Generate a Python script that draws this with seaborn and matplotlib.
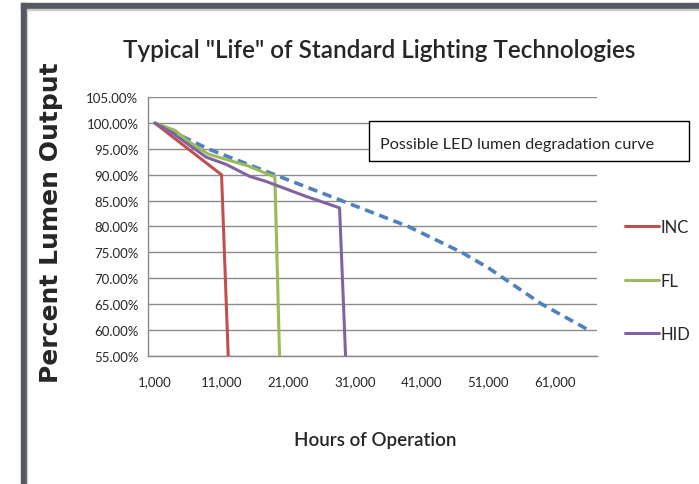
import matplotlib
matplotlib.use("Agg")
import matplotlib.pyplot as plt
import seaborn as sns
import pandas as pd
from matplotlib.patches import Rectangle
from matplotlib.ticker import FuncFormatter, FixedLocator

# hours vs percent lumen output
inc_hours = [1000, 11000, 12000]
inc_pct = [100, 90, 55]
fl_hours = [1000, 4000, 6000, 9000, 15000, 18000, 19000, 19700]
fl_pct = [100, 98.6, 96.5, 94.0, 91.7, 90.1, 89.6, 55]
hid_hours = [1000, 3500, 8700, 11700, 15200, 17700, 23700, 28700, 29600]
hid_pct = [100, 98.2, 93.4, 92.0, 89.7, 88.7, 85.8, 83.6, 55]
led_hours = [1000, 9000, 19000, 29000, 39000, 47000, 51000, 59000, 66000]
led_pct = [100, 95, 90, 85, 80, 75, 72, 65, 60]

x_ticks = [1000, 11000, 21000, 31000, 41000, 51000, 61000]
y_ticks = [55, 60, 65, 70, 75, 80, 85, 90, 95, 100, 105]

colors = {"INC": "#c0504d", "FL": "#9bbb59", "HID": "#8064a2"}
led_color = "#4f81bd"

df = pd.concat([
    pd.DataFrame({"hours": inc_hours, "pct": inc_pct, "tech": "INC"}),
    pd.DataFrame({"hours": fl_hours, "pct": fl_pct, "tech": "FL"}),
    pd.DataFrame({"hours": hid_hours, "pct": hid_pct, "tech": "HID"}),
])
led = pd.DataFrame({"hours": led_hours, "pct": led_pct})

sns.set_style("white")
plt.rcParams["font.family"] = ["Lato", "DejaVu Sans"]

fig = plt.figure(figsize=(6.99, 4.85), dpi=100)
ax = fig.add_axes([0.212, 0.2645, 0.642, 0.533])

sns.lineplot(data=led, x="hours", y="pct", ax=ax, color=led_color,
             linewidth=2.6, linestyle=(0, (2.6, 1.6)), legend=False, zorder=3)
sns.lineplot(data=df, x="hours", y="pct", hue="tech", palette=colors,
             hue_order=["INC", "FL", "HID"], ax=ax, linewidth=2.2,
             sort=False, estimator=None, zorder=4)

ax.set_xlim(0, 67300)
ax.set_ylim(55, 105)
ax.set_yticks(y_ticks)
ax.yaxis.set_major_formatter(FuncFormatter(lambda v, p: f"{v:.2f}%"))
ax.set_xticks(x_ticks)
ax.set_xticklabels([f"{v:,}" for v in x_ticks])
ax.xaxis.set_minor_locator(FixedLocator([t - 800 for t in x_ticks]))
ax.tick_params(axis="x", which="major", length=0, pad=14, labelsize=9.5)
ax.tick_params(axis="x", which="minor", length=5, color="#888888", direction="out")
ax.tick_params(axis="y", length=4, color="#888888", direction="out", labelsize=9.5, pad=3)
ax.grid(axis="y", color="#8c8c8c", linewidth=1.0)
ax.set_axisbelow(True)
for s in ["top", "right"]:
    ax.spines[s].set_visible(False)
for s in ["left", "bottom"]:
    ax.spines[s].set_color("#888888")
    ax.spines[s].set_linewidth(1.0)

ax.set_xlabel("Hours of Operation", fontsize=13.5, fontweight="semibold")
ax.xaxis.set_label_coords(0.505, -0.29)
ax.set_ylabel("Percent Lumen Output", fontsize=18, fontweight="bold",
              family="DejaVu Sans")
ax.yaxis.set_label_coords(-0.19, 0.52)

fig.text(0.543, 0.895, 'Typical "Life" of Standard Lighting Technologies',
         ha="center", va="center", fontsize=17.5, fontweight="semibold")

leg = ax.legend(title=None, frameon=False, loc="upper left",
                bbox_to_anchor=(1.03, 0.586), handlelength=2.0,
                handletextpad=0.1, labelspacing=2.25, fontsize=12)
for line in leg.get_lines():
    line.set_linewidth(2.2)

# annotation box
fig.patches.append(Rectangle((369 / 699, 1 - 162 / 485), 320 / 699, 40 / 485,
                             transform=fig.transFigure, facecolor="white",
                             edgecolor="black", linewidth=1.0, zorder=5))
fig.text(380 / 699, 1 - 145 / 485, "Possible LED lumen degradation curve",
         ha="left", va="center", fontsize=11.7, zorder=6)

# dark frame at top and left
frame = "#555a61"
fig.patches.append(Rectangle((21 / 699, 0), 4.5 / 699, 1 - 4 / 485,
                             transform=fig.transFigure, color=frame, zorder=10))
fig.patches.append(Rectangle((21 / 699, 1 - 9.5 / 485), 1, 5.5 / 485,
                             transform=fig.transFigure, color=frame, zorder=10))
fig.patches.append(Rectangle((26.5 / 699, 0), 1 / 699, 1 - 10 / 485,
                             transform=fig.transFigure, color="#cccccc", zorder=10))
fig.patches.append(Rectangle((26.5 / 699, 1 - 11 / 485), 1, 1 / 485,
                             transform=fig.transFigure, color="#cccccc", zorder=10))

fig.savefig("out.png", dpi=100)
